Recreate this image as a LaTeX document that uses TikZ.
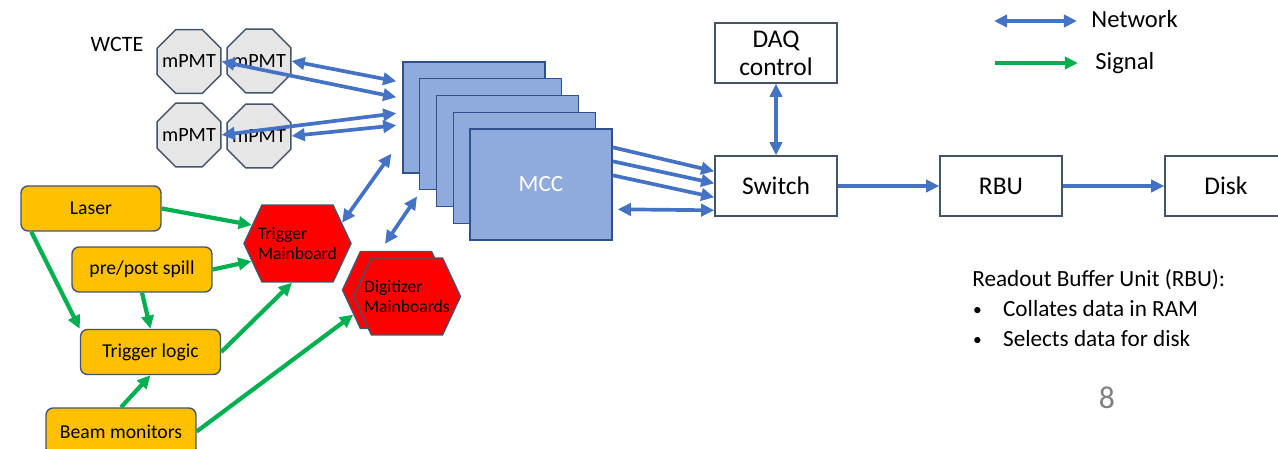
\documentclass[tikz,border=0pt]{standalone}
\usepackage{fontspec}
\setmainfont{Carlito}
\usepackage{tikz}
\usetikzlibrary{shapes.geometric,shapes.symbols,arrows.meta,calc}

\definecolor{netblue}{HTML}{4472C4}
\definecolor{siggreen}{HTML}{00B050}
\definecolor{mccfill}{HTML}{8FAADC}
\definecolor{mccline}{HTML}{2F528F}
\definecolor{boxline}{HTML}{44546A}
\definecolor{gold}{HTML}{FFC000}
\definecolor{pmtgray}{HTML}{E7E6E6}

\tikzset{
  net/.style={draw=netblue, line width=2.1pt, {Triangle[length=7.5pt,width=7pt]}-{Triangle[length=7.5pt,width=7pt]}},
  netto/.style={draw=netblue, line width=2.1pt, -{Triangle[length=7.5pt,width=7pt]}},
  sig/.style={draw=siggreen, line width=2.4pt, -{Triangle[length=7.5pt,width=7pt]}},
  pmt/.style={regular polygon, regular polygon sides=8, draw=boxline, fill=pmtgray, line width=0.8pt,
    minimum size=1.38cm, inner sep=0pt},
  pmttext/.style={font=\fontsize{11.5}{13}\selectfont},
  srcbox/.style={rectangle, rounded corners=4pt, draw=boxline, fill=gold, line width=0.8pt,
    minimum width=2.8cm, minimum height=0.9cm, font=\fontsize{11.2}{13}\selectfont},
  hexa/.style={signal, signal to=west and east, signal pointer angle=130, draw=boxline, fill=red,
    line width=0.8pt, minimum width=2.14cm, minimum height=1.54cm, inner sep=0pt},
  hexatext/.style={align=left, font=\fontsize{10}{11.5}\selectfont},
  mccbox/.style={rectangle, draw=mccline, fill=mccfill, line width=0.8pt, minimum width=2.84cm, minimum height=2.22cm},
  whitebox/.style={rectangle, draw=boxline, fill=white, line width=0.8pt, minimum width=2.44cm,
    minimum height=1.2cm, align=center, font=\fontsize{14.5}{16}\selectfont},
  lbl/.style={inner sep=0pt, anchor=west},
}
\newcommand{\bulletmark}{\makebox[17.5pt][l]{\hspace{0.5pt}\fontsize{10}{10}\selectfont\raisebox{0.5pt}{•}}}

\begin{document}
\begin{tikzpicture}[x=0.02cm,y=-0.02cm]
\useasboundingbox (0,0) rectangle (1278,449);

% detector side
\node[font=\fontsize{12.5}{14}\selectfont] (wcte) at (117,44) {WCTE};
	\node[pmt, label={[pmttext]center:mPMT}] (mp1) at (189,61.5) {};
	\node[pmt, label={[pmttext]center:mPMT}] (mp2) at (259,61) {};
	\node[pmt, label={[pmttext]center:mPMT}] (mp3) at (189,135) {};
	\node[pmt, label={[pmttext]center:mPMT}] (mp4) at (259,136) {};

% MCC stack
\foreach \i in {0,...,3}
	\node[mccbox] (mcc\i) at (474+16.75*\i,117.5+16.75*\i) {};
\node[mccbox, text=white, font=\fontsize{13.2}{15}\selectfont] (mcc4) at (541,184.5) {MCC};

% trigger sources
	\node[srcbox] (lsr) at (91,208.5) {Laser};
	\node[srcbox] (spill) at (142,269.5) {pre/post spill};
	\node[srcbox] (tlg) at (150.5,352) {Trigger logic};
	\node[srcbox, minimum width=3cm, minimum height=0.94cm] (bm) at (121,431.5) {Beam monitors};

	\node[hexa, label={[hexatext]center:Trigger\\Mainboard}] (tmb) at (297.5,243.5) {};
	\node[hexa] (digb) at (396,290) {};
	\node[hexa, label={[hexatext]center:Digitizer\\Mainboards}] (digf) at (407,296.5) {};

% readout chain
	\node[whitebox] (daq) at (776,53) {DAQ\\control};
	\node[whitebox] (sw) at (776,186) {Switch};
	\node[whitebox] (rbu) at (1001,186) {RBU};
	\node[whitebox] (disk) at (1226,186) {Disk};

% network links
\draw[net] (mp2.east) -- ($(mcc0.north west)+(-6,20)$);
\draw[net] (mp1.east) -- ($(mcc0.north west)+(-6,36)$);
\draw[net] (mp3.east) -- ($(mcc0.north west)+(-6,52)$);
\draw[net] (mp4.east) -- ($(mcc0.north west)+(-6,64)$);
\draw[net] ($(mcc0.south west)+(-11,-20)$) -- (tmb.25);
\draw[net] ($(mcc1.south west)+(-2,6)$) -- ($(digb.north)+(-11,-7)$);
\draw[netto] ($(mcc4.north east)+(0,19)$) -- ($(sw.north west)+(0,16)$);
\draw[netto] ($(mcc4.north east)+(0,33)$) -- ($(sw.north west)+(0,28)$);
\draw[netto] ($(mcc4.north east)+(0,47)$) -- ($(sw.north west)+(0,42)$);
\draw[net] ($(mcc4.north east)+(5,81)$) -- ($(sw.north west)+(0,55)$);
\draw[net] (daq) -- (sw);
\draw[netto] (sw) -- (rbu);
\draw[netto] (rbu) -- (disk);

% signal links
\draw[sig] (lsr.east) -- (tmb.158);
\draw[sig] (spill.east) -- (tmb.201);
\draw[sig] ($(lsr.south west)+(11,0)$) -- (tlg.north west);
\draw[sig] (spill.south) -- (tlg.north);
\draw[sig] (tlg.east) -- (tmb.262);
\draw[sig] (bm.north) -- (tlg.south);
\draw[sig] (bm.east) -- (digb.210);

% legend
\coordinate (netA) at (994,21);
\coordinate (netB) at (1077,21);
\coordinate (sigA) at (995,63);
\coordinate (sigB) at (1078,63);
\draw[net] (netA) -- (netB);
\draw[sig] (sigA) -- (sigB);
\node[lbl, font=\fontsize{14}{16}\selectfont] (netlbl) at (1091,19) {Network};
\node[lbl, font=\fontsize{14}{16}\selectfont] (siglbl) at (1095,63) {Signal};

\node[lbl, align=left, font=\fontsize{13.2}{17.2}\selectfont] (rbunote) at (972,308)
	{Readout Buffer Unit (RBU):\\
	 \bulletmark Collates data in RAM\\
	 \bulletmark Selects data for disk};
\node[text=gray, font=\fontsize{18}{20}\selectfont] (pageno) at (1107,398) {8};
\end{tikzpicture}
\end{document}
